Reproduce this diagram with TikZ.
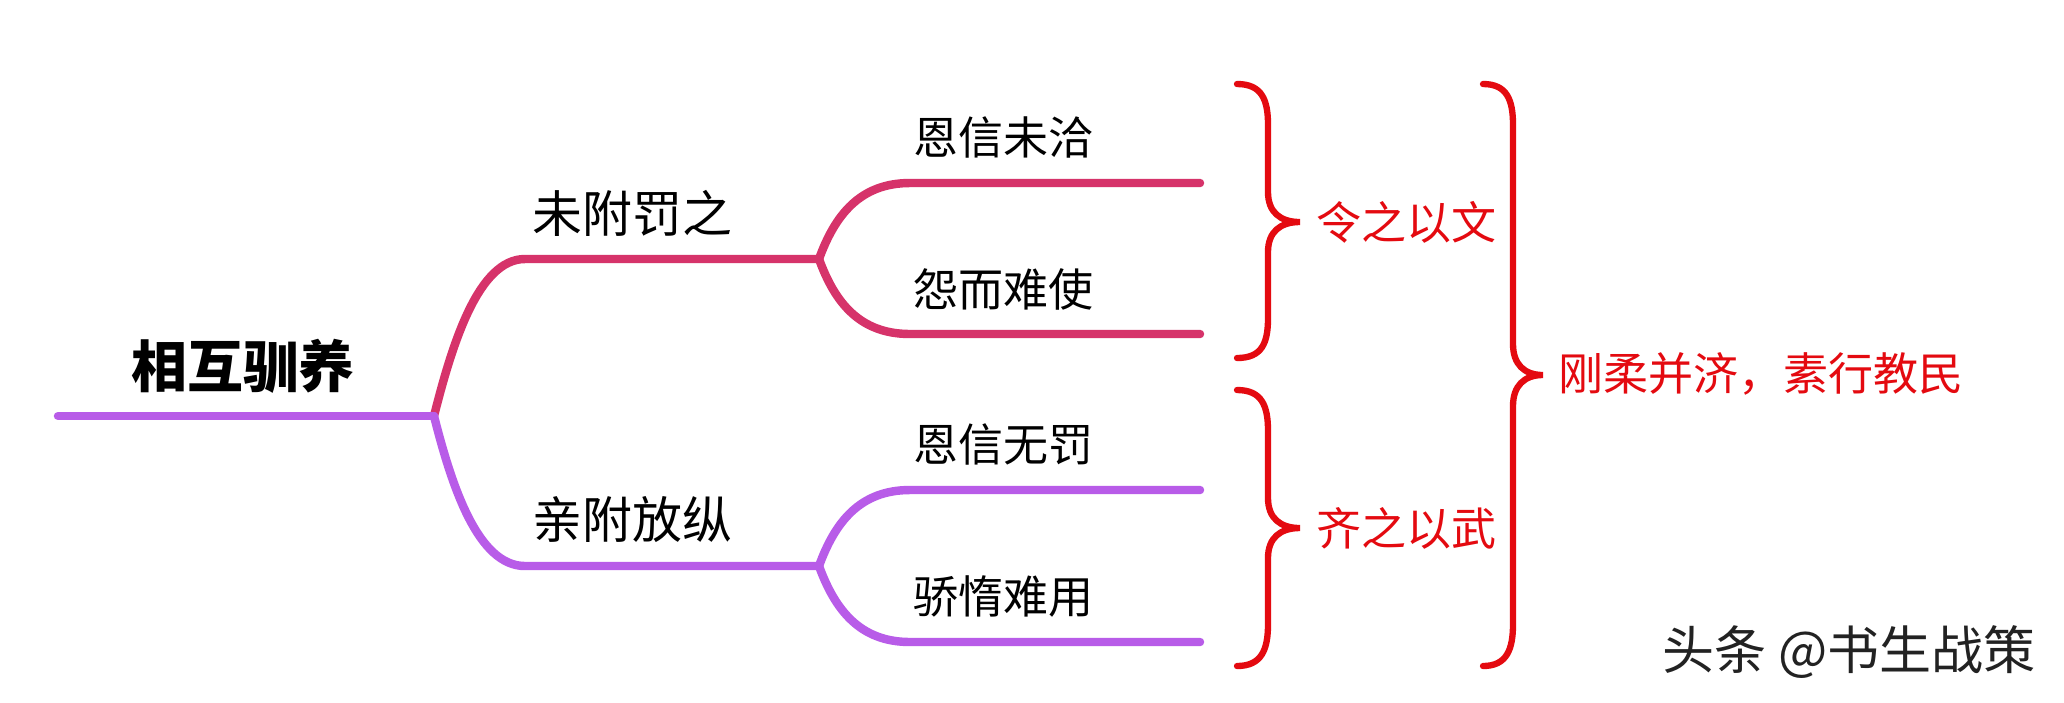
\documentclass[tikz,border=0pt]{standalone}
\usepackage{fontspec}
\setmainfont{Noto Sans CJK SC}
\usepackage{tikz}
\usetikzlibrary{calc,backgrounds}
\definecolor{pinkbranch}{RGB}{214,51,106}
\definecolor{purplebranch}{RGB}{184,92,232}
\definecolor{bracered}{RGB}{228,10,16}
\definecolor{marktext}{RGB}{34,34,34}
\tikzset{
  branch/.style={line width=2.4pt, line cap=round},
  midtext/.style={right, inner sep=0pt, font=\fontsize{14.2}{16}\selectfont},
  leaftext/.style={right, inner sep=0pt, font=\fontsize{12.8}{14}\selectfont},
  redtext/.style={right, inner sep=0pt, text=bracered, font=\fontsize{12.8}{14}\selectfont},
  bracepath/.style={draw=bracered, line width=1.8pt, line cap=round}
}

\begin{document}
\begin{tikzpicture}[x=0.01cm,y=-0.01cm]
\useasboundingbox (0,0) rectangle (2064,702);
\fill[white] (0,0) rectangle (2064,702);

\coordinate (start) at (58,416);
\coordinate (hub) at (434,416);
\coordinate (wfA) at (525,259);
\coordinate (wfB) at (819,259);
\coordinate (qfA) at (525,566);
\coordinate (qfB) at (819,566);
\coordinate (l1a) at (910,183);
\coordinate (l1b) at (1200,183);
\coordinate (l2a) at (910,334);
\coordinate (l2b) at (1200,334);
\coordinate (l3a) at (910,490);
\coordinate (l3b) at (1200,490);
\coordinate (l4a) at (910,642);
\coordinate (l4b) at (1200,642);

\node (root) at (243,366) {\fontsize{15.9}{18}\selectfont\bfseries 相互驯养};
\node[midtext] (weifu) at (532,213) {未附罚之};
\node[midtext] (qinfu) at (532,520) {亲附放纵};
\node[leaftext] (enA) at (913,137) {恩信未洽};
\node[leaftext] (yuan) at (913,289) {怨而难使};
\node[leaftext] (enB) at (913,444) {恩信无罚};
\node[leaftext] (jiao) at (913,596) {骄惰难用};
\node[redtext] (wen) at (1316,222) {令之以文};
\node[redtext] (wu) at (1316,528) {齐之以武};
\node[redtext] (gangrou) at (1558,374) {刚柔并济，素行教民};
\node[right, inner sep=0pt, text=marktext, font=\fontsize{14.8}{17}\selectfont] (mark) at (1662,652) {头条 @书生战策};

\draw[branch, pinkbranch] (hub) .. controls (452,345) and (478,259) .. (wfA) -- (wfB);
\draw[branch, pinkbranch] (wfB) .. controls (835,215) and (860,183) .. (l1a) -- (l1b);
\draw[branch, pinkbranch] (wfB) .. controls (835,303) and (860,334) .. (l2a) -- (l2b);
\draw[branch, purplebranch] (hub) .. controls (452,487) and (478,566) .. (qfA) -- (qfB);
\draw[branch, purplebranch] (qfB) .. controls (835,522) and (860,490) .. (l3a) -- (l3b);
\draw[branch, purplebranch] (qfB) .. controls (835,610) and (860,642) .. (l4a) -- (l4b);
\draw[branch, purplebranch] (start) -- (hub);

\draw[bracepath] (1237,84) .. controls (1262,84) and (1268,100) .. (1268,125) -- (1268,192)
  .. controls (1268,212) and (1280,222) .. (1300,222)
  .. controls (1280,222) and (1268,232) .. (1268,252) -- (1268,318)
  .. controls (1268,343) and (1262,358) .. (1237,358);
\draw[bracepath] (1237,390) .. controls (1262,390) and (1268,406) .. (1268,431) -- (1268,498)
  .. controls (1268,518) and (1280,528) .. (1300,528)
  .. controls (1280,528) and (1268,538) .. (1268,558) -- (1268,624)
  .. controls (1268,649) and (1262,666) .. (1237,666);
\draw[bracepath] (1483,84) .. controls (1507,84) and (1513,100) .. (1513,125) -- (1513,344)
  .. controls (1513,364) and (1524,375) .. (1543,375)
  .. controls (1524,375) and (1513,386) .. (1513,406) -- (1513,624)
  .. controls (1513,649) and (1507,666) .. (1483,666);
\end{tikzpicture}
\end{document}
